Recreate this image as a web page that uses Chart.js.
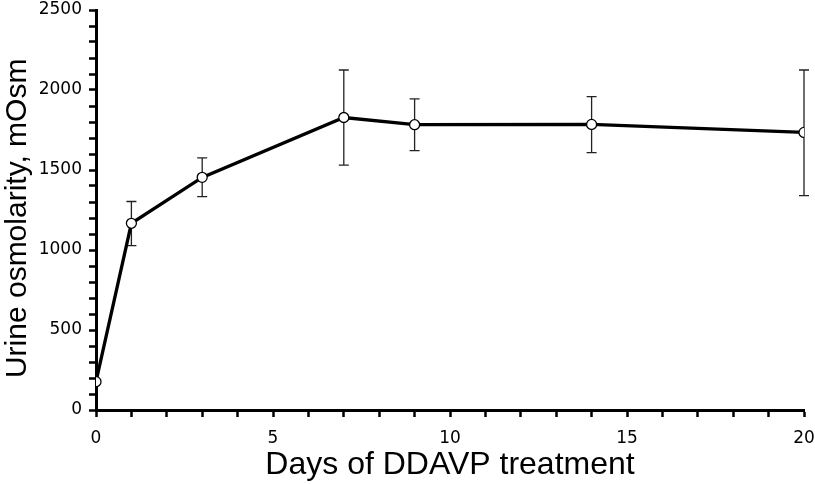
<!DOCTYPE html>
<html lang="en">
  <head>
    <meta charset="UTF-8" />
    <title>Urine osmolarity vs DDAVP treatment</title>
    <script src="https://cdn.jsdelivr.net/npm/chart.js"></script>
    <style>
      html, body { margin: 0; padding: 0; background: #fff; }
      #wrap { width: 815px; height: 484px; }
    </style>
  </head>
  <body>
    <div id="wrap"><canvas id="osmChart"></canvas></div>
    <script>
      // values
      const days = [0, 1, 3, 7, 9, 14, 20];
      const osmMean = [177, 1167, 1454, 1828, 1783, 1785, 1735];
      const osmLow = [177, 1027, 1333, 1531, 1621, 1608, 1340];
      const osmHigh = [177, 1303, 1576, 2125, 1944, 1958, 2125];
      const yMajorTicks = [0, 500, 1000, 1500, 2000, 2500];
      const xMajorTicks = [0, 5, 10, 15, 20];

      const points = days.map((d, i) => ({ x: d, y: osmMean[i] }));

      // vertical error bars drawn from the chart's own scales
      const errorBars = {
        id: "errorBars",
        beforeDatasetsDraw(chart) {
          const { ctx, scales } = chart;
          ctx.save();
          ctx.strokeStyle = "#222";
          ctx.lineWidth = 1.3;
          days.forEach((d, i) => {
            const x = scales.x.getPixelForValue(d);
            const top = scales.y.getPixelForValue(osmHigh[i]);
            const bot = scales.y.getPixelForValue(osmLow[i]);
            if (Math.abs(bot - top) < 1) return;
            ctx.beginPath();
            ctx.moveTo(x, top);
            ctx.lineTo(x, bot);
            ctx.moveTo(x - 5, top);
            ctx.lineTo(x + 5, top);
            ctx.moveTo(x - 5, bot);
            ctx.lineTo(x + 5, bot);
            ctx.stroke();
          });
          ctx.restore();
        },
      };

      const ctx = document.getElementById("osmChart").getContext("2d");
      new Chart(ctx, {
        type: "line",
        data: {
          datasets: [
            {
              data: points,
              borderColor: "#000",
              borderWidth: 3.3,
              tension: 0,
              pointRadius: 5,
              pointBackgroundColor: "#fff",
              pointBorderColor: "#000",
              pointBorderWidth: 1.3,
            },
          ],
        },
        plugins: [errorBars],
        options: {
          responsive: true,
          maintainAspectRatio: false,
          animation: false,
          layout: { padding: 0 },
          plugins: { legend: { display: false }, tooltip: { enabled: false } },
          scales: {
            x: {
              type: "linear",
              min: 0,
              max: 20,
              afterFit: (s) => {
                s.height = 74;
                s.paddingLeft = 0;
                s.paddingRight = 11;
              },
              border: { color: "#000", width: 3 },
              grid: { drawOnChartArea: false, tickLength: 7, tickWidth: 2.5, tickColor: "#000" },
              ticks: {
                stepSize: 1,
                autoSkip: false,
                maxRotation: 0,
                color: "#000",
                padding: 11,
                font: { family: "DejaVu Sans", size: 17 },
                callback: (v) => (xMajorTicks.includes(v) ? v : ""),
              },
              title: {
                display: true,
                text: "Days of DDAVP treatment",
                color: "#000",
                font: { family: "Liberation Sans", size: 32 },
                padding: { top: 0, bottom: 0 },
              },
            },
            y: {
              min: 0,
              max: 2500,
              afterFit: (s) => {
                s.width = 96;
                s.paddingTop = 10;
                s.paddingBottom = 0;
              },
              border: { color: "#000", width: 3 },
              grid: { drawOnChartArea: false, tickLength: 7, tickWidth: 2.5, tickColor: "#000" },
              ticks: {
                stepSize: 100,
                autoSkip: false,
                color: "#000",
                padding: 7,
                font: { family: "DejaVu Sans", size: 17 },
                callback: (v) => (yMajorTicks.includes(v) ? v : ""),
              },
              title: {
                display: true,
                // trailing spaces nudge the rotated title down a little, as in the original
                text: "Urine osmolarity, mOsm  ",
                color: "#000",
                font: { family: "Liberation Sans", size: 30 },
                padding: { top: 0, bottom: 0 },
              },
            },
          },
        },
      });
    </script>
  </body>
</html>
